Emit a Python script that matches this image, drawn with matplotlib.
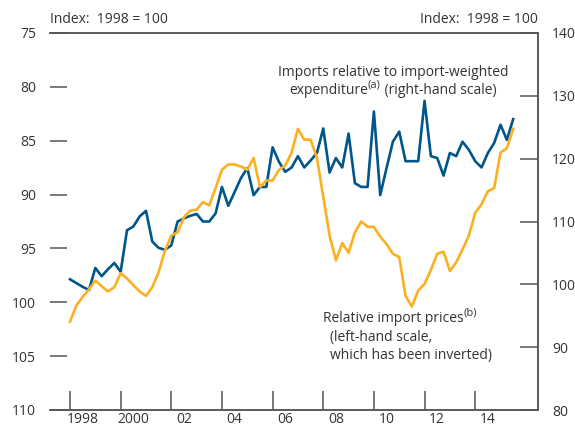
import numpy as np
import matplotlib.pyplot as plt

# quarterly data, 1998 Q1 onwards
start_year = 1998
import_prices = [101.8, 100.3, 99.5, 98.8, 98.0, 98.5, 99.0, 98.6, 97.3, 97.8,
                 98.4, 99.0, 99.4, 98.6, 97.2, 95.2, 93.8, 93.5, 92.1, 91.5,
                 91.4, 90.7, 91.0, 89.4, 87.7, 87.2, 87.2, 87.4, 87.7, 86.6,
                 89.3, 88.7, 88.7, 87.7, 87.3, 86.1, 83.9, 84.9, 84.9, 86.6,
                 90.2, 93.8, 96.1, 94.5, 95.4, 93.5, 92.5, 93.0, 93.0, 93.9,
                 94.6, 95.5, 95.8, 99.4, 100.4, 98.9, 98.3, 97.0, 95.5, 95.3,
                 97.1, 96.3, 95.1, 93.8, 91.7, 90.9, 89.7, 89.4, 86.1, 85.7,
                 83.9]
imports_rel = [100.8, 100.2, 99.6, 99.1, 102.6, 101.3, 102.4, 103.4, 102.0, 108.6,
               109.2, 110.8, 111.7, 106.8, 105.8, 105.5, 106.2, 110.0, 110.5, 110.9,
               111.2, 110.0, 110.0, 111.3, 115.5, 112.5, 114.7, 116.9, 118.5, 114.2,
               115.5, 115.5, 121.8, 119.5, 117.9, 118.6, 120.4, 118.6, 119.7, 120.9,
               124.8, 117.8, 120.1, 118.6, 124.0, 116.1, 115.5, 115.5, 127.5, 114.2,
               118.5, 122.7, 124.3, 119.6, 119.6, 119.6, 129.2, 120.4, 120.1, 117.3,
               120.9, 120.4, 122.7, 121.4, 119.6, 118.6, 120.9, 122.5, 125.4, 123.0,
               126.3]
year_ticks = [1998, 2000, 2002, 2004, 2006, 2008, 2010, 2012, 2014]
year_labels = ['1998', '2000', '02', '04', '06', '08', '10', '12', '14']
left_ticks = [75, 80, 85, 90, 95, 100, 105, 110]
right_ticks = [80, 90, 100, 110, 120, 130, 140]

x = start_year + np.arange(len(import_prices)) / 4

blue = '#00558B'
orange = '#FBB022'
grey = '#555555'
txt = '#333333'

plt.rcParams['font.family'] = ['Open Sans', 'DejaVu Sans']
plt.rcParams['font.size'] = 10

fig = plt.figure(figsize=(5.75, 4.3), dpi=100)
ax = fig.add_axes([50 / 575, 20 / 430, 488 / 575, 377 / 430])
ax2 = ax.twinx()

ax.plot(x, import_prices, color=orange, lw=1.9, zorder=3)
ax2.plot(x, imports_rel, color=blue, lw=1.9, zorder=2)

ax.set_xlim(1997.21, 2016.48)
ax.set_ylim(110, 75)
ax2.set_ylim(80, 140)
ax.set_yticks(left_ticks)
ax2.set_yticks(right_ticks)

ax.set_xticks(year_ticks)
ax.set_xticklabels([])
ax.set_xticks([y + 0.5 for y in year_ticks], minor=True)
ax.set_xticklabels(year_labels, minor=True)
ax.tick_params(axis='x', which='major', direction='in', length=14, width=1.1, color=grey)
ax.tick_params(axis='x', which='minor', length=0, pad=1.5, labelcolor=txt, labelsize=10)
ax.tick_params(axis='y', direction='in', length=12, width=1.1, color=grey, pad=10,
               labelcolor=txt, labelsize=10)
ax2.tick_params(axis='y', direction='in', length=13, width=1.1, color=grey, pad=10,
                labelcolor=txt, labelsize=10)

for a in (ax, ax2):
    a.spines['left'].set_visible(False)
    for s in ('top', 'bottom', 'right'):
        a.spines[s].set_color(grey)
        a.spines[s].set_linewidth(1.1)
ax.set_zorder(ax2.get_zorder() + 1)
ax.patch.set_visible(False)

# headers above the box
ax.text(0.0, 1.015, 'Index:  1998 = 100', transform=ax.transAxes, ha='left',
        va='bottom', color=txt, fontsize=10)
ax.text(1.0, 1.015, 'Index:  1998 = 100', transform=ax.transAxes, ha='right',
        va='bottom', color=txt, fontsize=10)

# annotations
px = lambda u, v: ((u - 50) / 488, (410 - v) / 377)
ax.text(*px(393, 72), 'Imports relative to import-weighted', transform=ax.transAxes,
        ha='center', va='center', color=txt, fontsize=10)
t1 = ax.text(*px(289, 91), 'expenditure', transform=ax.transAxes,
             ha='left', va='center', color=txt, fontsize=10)
s1 = ax.annotate('(a)', xy=(1, 0.55), xycoords=t1, ha='left', va='bottom',
                 color=txt, fontsize=8)
ax.annotate(' (right-hand scale)', xy=(1, 0), xycoords=(s1, t1),
            ha='left', va='bottom', color=txt, fontsize=10)

t2 = ax.text(*px(323, 319), 'Relative import prices', transform=ax.transAxes,
             ha='left', va='center', color=txt, fontsize=10)
ax.annotate('(b)', xy=(1, 0.55), xycoords=t2, ha='left', va='bottom',
            color=txt, fontsize=8)
ax.text(*px(330, 338), '(left-hand scale,', transform=ax.transAxes,
        ha='left', va='center', color=txt, fontsize=10)
ax.text(*px(330, 356), 'which has been inverted)', transform=ax.transAxes,
        ha='left', va='center', color=txt, fontsize=10)

plt.savefig('out.png', dpi=100)
